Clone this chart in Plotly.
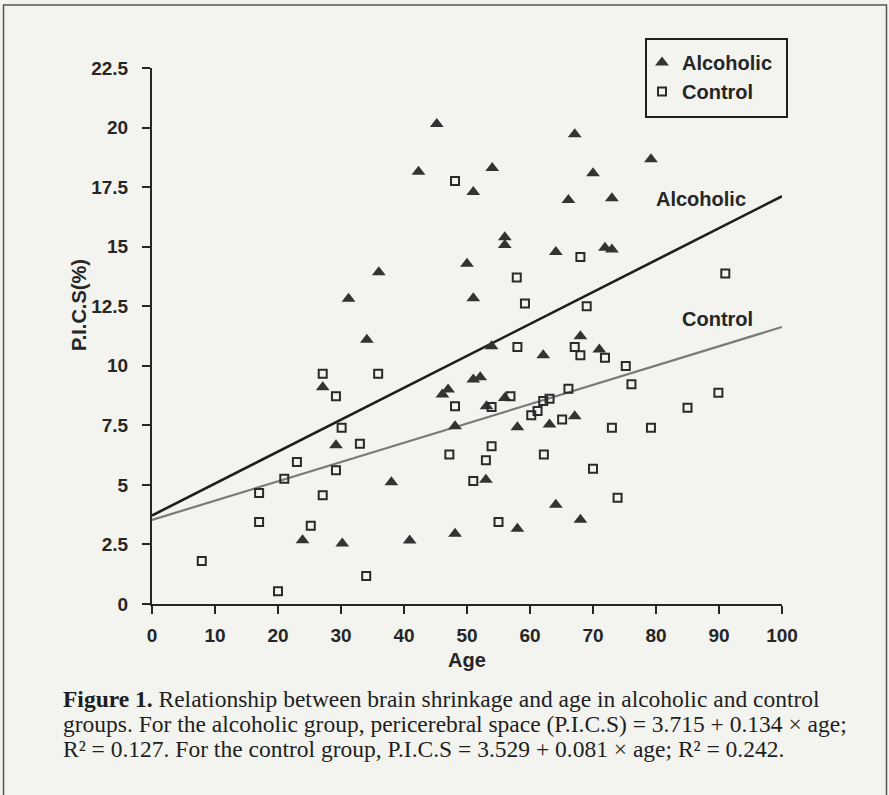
import plotly.graph_objects as go

# ---- data ----
alc_age = [45.2, 42.3, 54.0, 51.0, 67.1, 79.2, 70.0, 66.1, 73.0, 56.0, 56.0, 64.1, 71.9, 73.0,
           50.0, 36.0, 31.2, 51.0, 34.1, 53.9, 68.0, 62.1, 71.0, 27.1, 47.0, 46.1, 48.1, 29.2,
           38.0, 23.9, 30.2, 40.9, 48.1, 51.0, 52.1, 53.1, 56.0, 58.0, 63.1, 67.1, 53.0, 64.1,
           68.0, 58.0]
alc_pics = [20.15, 18.15, 18.3, 17.3, 19.72, 18.67, 18.08, 16.96, 17.03, 15.4, 15.07, 14.78, 14.95, 14.88,
            14.28, 13.93, 12.81, 12.83, 11.09, 10.82, 11.24, 10.44, 10.68, 9.1, 9.0, 8.79, 7.46, 6.66,
            5.11, 2.68, 2.54, 2.67, 2.95, 9.42, 9.52, 8.3, 8.65, 7.42, 7.53, 7.88, 5.22, 4.17,
            3.54, 3.16]

ctl_age = [27.1, 35.9, 29.2, 48.1, 30.1, 33.0, 47.2, 23.0, 29.2, 21.0, 17.0, 27.1, 17.0, 25.2,
           7.9, 34.0, 20.0, 58.0, 67.1, 68.0, 71.9, 75.2, 76.1, 89.9, 85.0, 66.1, 63.1, 62.1,
           61.2, 60.2, 65.1, 73.0, 79.2, 53.9, 56.9, 53.9, 53.0, 62.2, 51.0, 70.0, 73.9, 55.0,
           68.0, 57.9, 91.0, 59.2, 69.0, 48.1]
ctl_pics = [9.67, 9.67, 8.72, 8.30, 7.40, 6.73, 6.28, 5.96, 5.61, 5.26, 4.66, 4.56, 3.44, 3.28,
            1.81, 1.18, 0.53, 10.79, 10.79, 10.44, 10.34, 9.99, 9.22, 8.87, 8.24, 9.04, 8.62, 8.52,
            8.10, 7.92, 7.75, 7.40, 7.40, 8.27, 8.72, 6.62, 6.03, 6.28, 5.16, 5.68, 4.46, 3.44,
            14.57, 13.71, 13.87, 12.61, 12.5, 17.76]

# regression equations from the caption
alc_fit = (3.715, 0.134)
ctl_fit = (3.529, 0.081)
fit_ages = [0, 100]

x_ticks = [0, 10, 20, 30, 40, 50, 60, 70, 80, 90, 100]
y_ticks = [0, 2.5, 5, 7.5, 10, 12.5, 15, 17.5, 20, 22.5]
y_tick_labels = ["0", "2.5", "5", "7.5", "10", "12.5", "15", "17.5", "20", "22.5"]

caption_lines = [
    "<b>Figure 1.</b> Relationship between brain shrinkage and age in alcoholic and control",
    "groups. For the alcoholic group, pericerebral space (P.I.C.S) = 3.715 + 0.134 × age;",
    "R² = 0.127. For the control group, P.I.C.S = 3.529 + 0.081 × age; R² = 0.242.",
]

# ---- layout geometry (pixels) ----
W, H = 889, 795
L, R, T, B = 152, 107, 68, 191
PW, PH = W - L - R, H - T - B


def px(x):
    return (x - L) / PW


def py(y):
    return (H - B - y) / PH


BG = "#f3f3ef"
INK = "#262626"
SANS = "Liberation Sans, Arial, sans-serif"
SERIF = "Liberation Serif, Times New Roman, serif"

fig = go.Figure()

fig.add_trace(go.Scatter(
    x=fit_ages, y=[alc_fit[0] + alc_fit[1] * a for a in fit_ages], mode="lines",
    line=dict(color="#1e1e1e", width=2.6), showlegend=False, hoverinfo="skip"))
fig.add_trace(go.Scatter(
    x=fit_ages, y=[ctl_fit[0] + ctl_fit[1] * a for a in fit_ages], mode="lines",
    line=dict(color="#7a7a7a", width=2.2), showlegend=False, hoverinfo="skip"))

fig.add_trace(go.Scatter(
    x=alc_age, y=alc_pics, mode="markers", name="Alcoholic", legendgroup="a",
    marker=dict(symbol="triangle-up", size=12, color="#333333", line=dict(width=0))))
fig.add_trace(go.Scatter(
    x=ctl_age, y=ctl_pics, mode="markers", name="Control", legendgroup="c",
    marker=dict(symbol="square-open", size=8, color="#2a2a2a", line=dict(width=2, color="#2a2a2a"))))

axis_common = dict(
    showline=True, linecolor=INK, linewidth=2, ticks="outside", ticklen=8, tickwidth=2,
    tickcolor=INK, showgrid=False, zeroline=False,
    tickfont=dict(family=SANS, size=19, color=INK, weight="bold"),
)

fig.update_xaxes(range=[0, 100], tickvals=x_ticks, ticktext=[str(v) for v in x_ticks],
                 ticklabelstandoff=5, **axis_common)
fig.update_yaxes(range=[0, 22.5], tickvals=y_ticks, ticktext=y_tick_labels,
                 ticklabelstandoff=10, **axis_common)

annotations = [
    dict(text="P.I.C.S(%)", x=px(79), y=py(305), xref="paper", yref="paper", textangle=-90,
         showarrow=False, xanchor="center", yanchor="middle",
         font=dict(family=SANS, size=20, color=INK, weight="bold")),
    dict(text="Age", x=0.5, y=py(660), xref="paper", yref="paper", showarrow=False,
         xanchor="center", yanchor="middle",
         font=dict(family=SANS, size=20, color=INK, weight="bold")),
    dict(text="Alcoholic", x=87.1, y=17.0, xref="x", yref="y", showarrow=False,
         xanchor="center", yanchor="middle",
         font=dict(family=SANS, size=20, color=INK, weight="bold")),
    dict(text="Control", x=89.8, y=11.96, xref="x", yref="y", showarrow=False,
         xanchor="center", yanchor="middle",
         font=dict(family=SANS, size=20, color=INK, weight="bold")),
]
for i, line in enumerate(caption_lines):
    annotations.append(dict(text=line, x=px(61), y=py(699 + 25 * i), xref="paper", yref="paper",
                            showarrow=False, xanchor="left", yanchor="middle",
                            font=dict(family=SERIF, size=23.5, color="#1e1e1e")))

shapes = [
    dict(type="rect", xref="paper", yref="paper", x0=px(3.5), x1=px(886.5),
         y0=py(820), y1=py(5), line=dict(color="#555555", width=1.5)),
    # legend frame
    dict(type="rect", xref="paper", yref="paper", x0=px(646), x1=px(787),
         y0=py(117), y1=py(39), line=dict(color="#1e1e1e", width=2)),
]

fig.update_layout(
    width=W, height=H, margin=dict(l=L, r=R, t=T, b=B),
    paper_bgcolor=BG, plot_bgcolor=BG,
    showlegend=True,
    legend=dict(x=px(642), y=py(43), xanchor="left", yanchor="top",
                borderwidth=0, bgcolor="rgba(0,0,0,0)",
                traceorder="grouped", tracegroupgap=0,
                font=dict(family=SANS, size=20, color=INK, weight="bold")),
    annotations=annotations, shapes=shapes,
)

fig.write_html("out.html")
